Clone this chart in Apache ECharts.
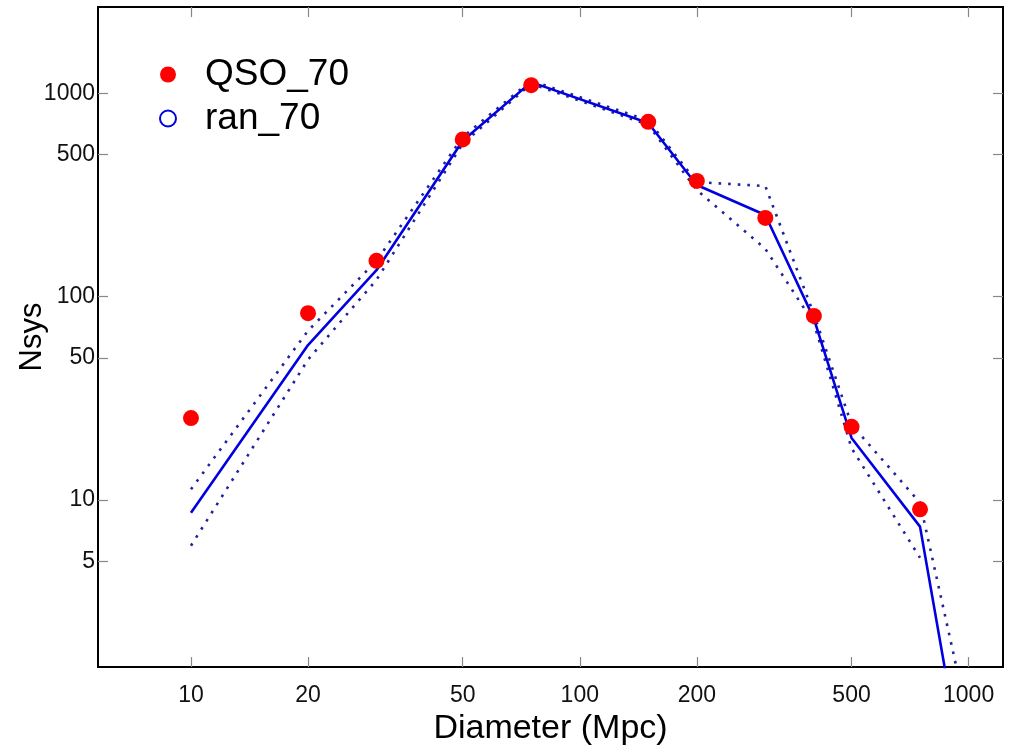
<!DOCTYPE html>
<html><head><meta charset="utf-8">
<script src="https://cdn.jsdelivr.net/npm/echarts@6/dist/echarts.min.js"></script>
<style>html,body{margin:0;padding:0;background:#fff}#c{width:1015px;height:746px}</style>
</head><body><div id="c"></div>
<script>
const diameters = [10, 20, 30, 50, 75, 150, 200, 300, 400, 500, 750, 1000];
const qso70 = [25.3, 83, 150, 593, 1097, 724, 371, 244, 80.4, 22.9, 9.0, null];
const ran70 = [8.66, 57.8, 135, 585, 1135, 715, 354, 252, 78, 20.2, 7.4, 0.32];
const ran70Upper = [11.3, 68, 150, 610, 1155, 735, 366, 350, 82, 23.5, 9.7, 0.81];
const ran70Lower = [5.96, 49, 121, 565, 1115, 700, 334, 172, 74, 18, 5.2, null];
const xTicks = [10, 20, 50, 100, 200, 500, 1000];
const yTicks = [5, 10, 50, 100, 500, 1000];

const pairs = arr => diameters.map((d, i) => [d, arr[i]]);
const FONT = 'Liberation Sans, Arial, Helvetica, sans-serif';
const X_MIN = 5.766, X_MAX = 1226, Y_MIN = 1.51, Y_MAX = 2657;
const fmt = v => String(+(+v).toPrecision(6));

const tickStyle = { show: true, inside: true, length: 10, lineStyle: { color: '#888', width: 1.2 } };
const axLine = { show: true, lineStyle: { color: '#000', width: 2 } };

const chart = echarts.init(document.getElementById('c'), null, { renderer: 'canvas' });
chart.setOption({
  animation: false,
  backgroundColor: '#fff',
  grid: { left: 98, right: 12, top: 7, bottom: 79, outerBoundsMode: 'none', containLabel: false,
          show: true, borderColor: '#000', borderWidth: 2, backgroundColor: 'transparent' },
  legend: {
    orient: 'vertical', left: 159, top: 56, padding: 0, itemGap: 7,
    itemWidth: 64, itemHeight: 16,
    textStyle: { fontFamily: FONT, fontSize: 37, color: '#000', lineHeight: 34 },
    data: [
      { name: 'QSO_70', icon: 'circle' },
      { name: 'ran_70', icon: 'emptyCircle' }
    ]
  },
  xAxis: [
    {
      type: 'log', logBase: 10, min: X_MIN, max: X_MAX, position: 'bottom',
      axisLine: axLine,
      axisTick: Object.assign({ customValues: xTicks }, tickStyle),
      axisLabel: { customValues: xTicks, formatter: fmt, fontFamily: FONT, fontSize: 23, color: '#111', margin: 17 },
      splitLine: { show: false }, minorTick: { show: false },
      name: 'Diameter (Mpc)', nameLocation: 'middle', nameGap: 43,
      nameTextStyle: { fontFamily: FONT, fontSize: 34, color: '#000' }
    },
    {
      type: 'log', logBase: 10, min: X_MIN, max: X_MAX, position: 'top',
      axisLine: axLine,
      axisTick: Object.assign({ customValues: xTicks }, tickStyle),
      axisLabel: { show: false, customValues: xTicks },
      splitLine: { show: false }
    }
  ],
  yAxis: [
    {
      type: 'log', logBase: 10, min: Y_MIN, max: Y_MAX, position: 'left',
      axisLine: axLine,
      axisTick: Object.assign({ customValues: yTicks }, tickStyle),
      axisLabel: { customValues: yTicks, formatter: fmt, fontFamily: FONT, fontSize: 23, color: '#111', margin: 3 },
      splitLine: { show: false }, minorTick: { show: false },
      name: 'Nsys', nameLocation: 'middle', nameGap: 50, nameRotate: 90, nameMoveOverlap: false,
      nameTextStyle: { fontFamily: FONT, fontSize: 31, color: '#000' }
    },
    {
      type: 'log', logBase: 10, min: Y_MIN, max: Y_MAX, position: 'right',
      axisLine: axLine,
      axisTick: Object.assign({ customValues: yTicks }, tickStyle),
      axisLabel: { show: false, customValues: yTicks },
      splitLine: { show: false }
    }
  ],
  series: [
    {
      name: 'ran_70 upper', type: 'line', data: pairs(ran70Upper), showSymbol: false, symbol: 'none',
      clip: true, connectNulls: false,
      lineStyle: { color: '#22229a', width: 2.6, type: [2.6, 7] }, z: 2
    },
    {
      name: 'ran_70 lower', type: 'line', data: pairs(ran70Lower), showSymbol: false, symbol: 'none',
      clip: true, connectNulls: false,
      lineStyle: { color: '#22229a', width: 2.6, type: [2.6, 7] }, z: 2
    },
    {
      name: 'ran_70', type: 'line', data: pairs(ran70), showSymbol: false, symbol: 'emptyCircle',
      clip: true, color: '#0000e0',
      lineStyle: { color: '#0000e0', width: 2.6 }, z: 3
    },
    {
      name: 'QSO_70', type: 'scatter', data: pairs(qso70), symbol: 'circle', symbolSize: 16,
      itemStyle: { color: '#ff0000', opacity: 1 }, z: 4
    }
  ]
});
</script>
</body></html>
